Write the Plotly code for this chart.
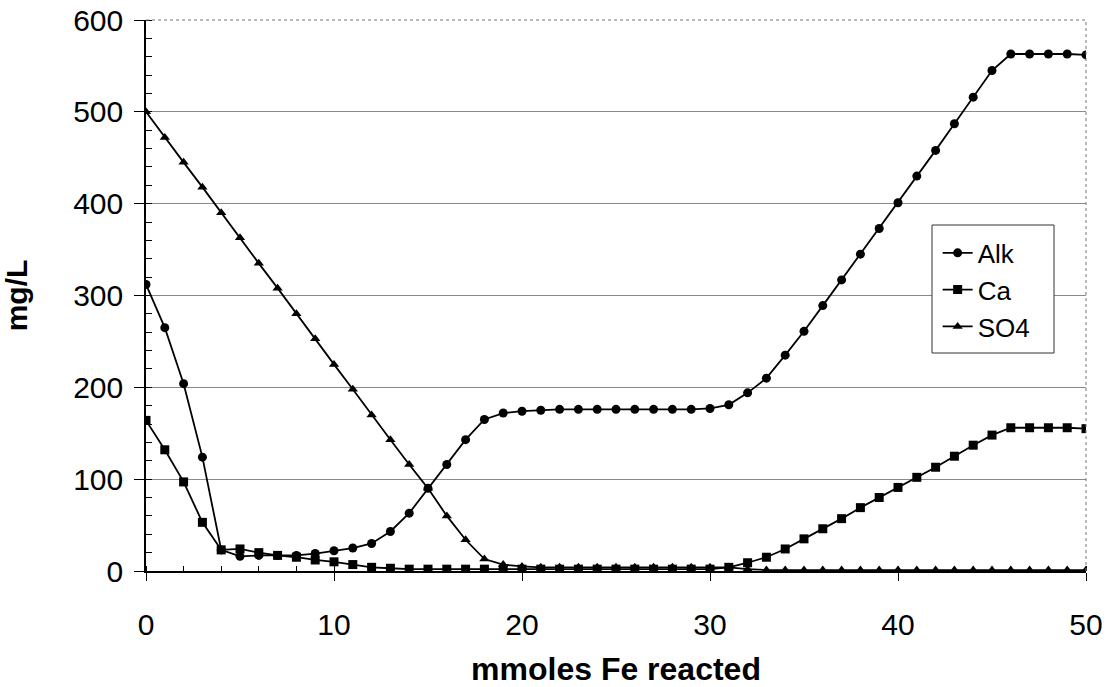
import plotly.graph_objects as go

x_mmol = [0, 1, 2, 3, 4, 5, 6, 7, 8, 9, 10, 11, 12, 13, 14, 15, 16, 17, 18, 19, 20,
          21, 22, 23, 24, 25, 26, 27, 28, 29, 30, 31, 32, 33, 34, 35, 36, 37, 38, 39, 40,
          41, 42, 43, 44, 45, 46, 47, 48, 49, 50]

alk = [312, 265, 204, 124, 23, 16, 17, 17, 17, 19, 22, 25, 30, 43, 63, 90, 116, 143, 165, 172, 174,
       175, 176, 176, 176, 176, 176, 176, 176, 176, 177, 181, 194, 210, 235, 261, 289, 317, 345, 373, 401,
       430, 458, 487, 516, 545, 563, 563, 563, 563, 562]

ca = [164, 132, 97, 53, 23, 24, 20, 17, 15, 12, 10, 7, 4, 3, 2, 2, 2, 2, 2, 2, 2,
      2, 2, 2, 2, 2, 2, 2, 2, 2, 2, 4, 9, 15, 24, 35, 46, 57, 69, 80, 91,
      102, 113, 125, 137, 148, 156, 156, 156, 156, 155]

so4 = [500, 472, 445, 418, 390, 363, 335, 308, 280, 253, 225, 198, 170, 143, 116, 90, 60, 34, 13, 7, 5,
       4, 4, 4, 4, 4, 4, 4, 4, 4, 4, 4, 2, 1, 1, 1, 1, 1, 1, 1, 1,
       1, 1, 1, 1, 1, 1, 1, 1, 1, 1]

series = [("Alk", alk, "circle"), ("Ca", ca, "square"), ("SO4", so4, "triangle-up")]

FONT = "Liberation Sans, Arial, sans-serif"

W, H = 1108, 687
ML, MR, MT, MB = 146, 22, 20, 116
PW, PH = W - ML - MR, H - MT - MB


def px_to_paper(xp, yp):
    return (xp - ML) / PW, 1 - (yp - MT) / PH


lx0, ly0 = px_to_paper(932, 225)
lx1, ly1 = px_to_paper(1054, 353)

fig = go.Figure()
for name, vals, sym in series:
    fig.add_trace(go.Scatter(
        x=x_mmol, y=vals, name=name, mode="lines+markers",
        line=dict(color="black", width=1.8),
        marker=dict(symbol=sym, size=9, color="black"),
    ))

fig.update_layout(
    width=W, height=H,
    margin=dict(l=ML, r=MR, t=MT, b=MB),
    paper_bgcolor="white", plot_bgcolor="white",
    font=dict(family=FONT, size=30, color="black"),
    showlegend=True,
    legend=dict(
        x=lx0 + 0.006, y=ly0 - 0.008, xanchor="left", yanchor="top",
        bgcolor="rgba(0,0,0,0)", borderwidth=0,
        font=dict(size=26), itemwidth=30, tracegroupgap=0,
    ),
    xaxis=dict(
        range=[0, 50], dtick=10, showgrid=False, zeroline=False,
        showline=True, linecolor="black", linewidth=1.5,
        ticks="outside", ticklen=8, tickcolor="black",
        minor=dict(dtick=2, ticks="inside", ticklen=5, tickcolor="black", showgrid=False),
        ticklabelstandoff=18, ticklabeloverflow="allow",
        title=dict(text="<b>mmoles Fe reacted</b>", font=dict(size=32), standoff=20),
        automargin=False,
    ),
    yaxis=dict(
        range=[0, 600], dtick=100, showgrid=True, gridcolor="#8a8a8a", gridwidth=1,
        zeroline=False, showline=True, linecolor="black", linewidth=1.5,
        ticks="outside", ticklen=10, tickcolor="black",
        minor=dict(dtick=20, ticks="inside", ticklen=6, tickcolor="black", showgrid=False),
        ticklabelstandoff=5, ticklabeloverflow="allow",
        title=dict(text="<b>mg/L</b>", font=dict(size=30), standoff=46),
        automargin=False,
    ),
    shapes=[
        dict(type="line", xref="paper", yref="paper", x0=0, x1=1, y0=1, y1=1,
             line=dict(color="#777", width=1, dash="dot")),
        dict(type="line", xref="paper", yref="paper", x0=1, x1=1, y0=0, y1=1,
             line=dict(color="#777", width=1, dash="dot")),
        dict(type="rect", xref="paper", yref="paper", x0=lx0, x1=lx1, y0=ly1, y1=ly0,
             fillcolor="white", line=dict(color="#333", width=1), layer="above"),
    ],
)

fig.write_html("out.html", config={"displayModeBar": False},
               post_script="document.body.style.margin='0px';")
